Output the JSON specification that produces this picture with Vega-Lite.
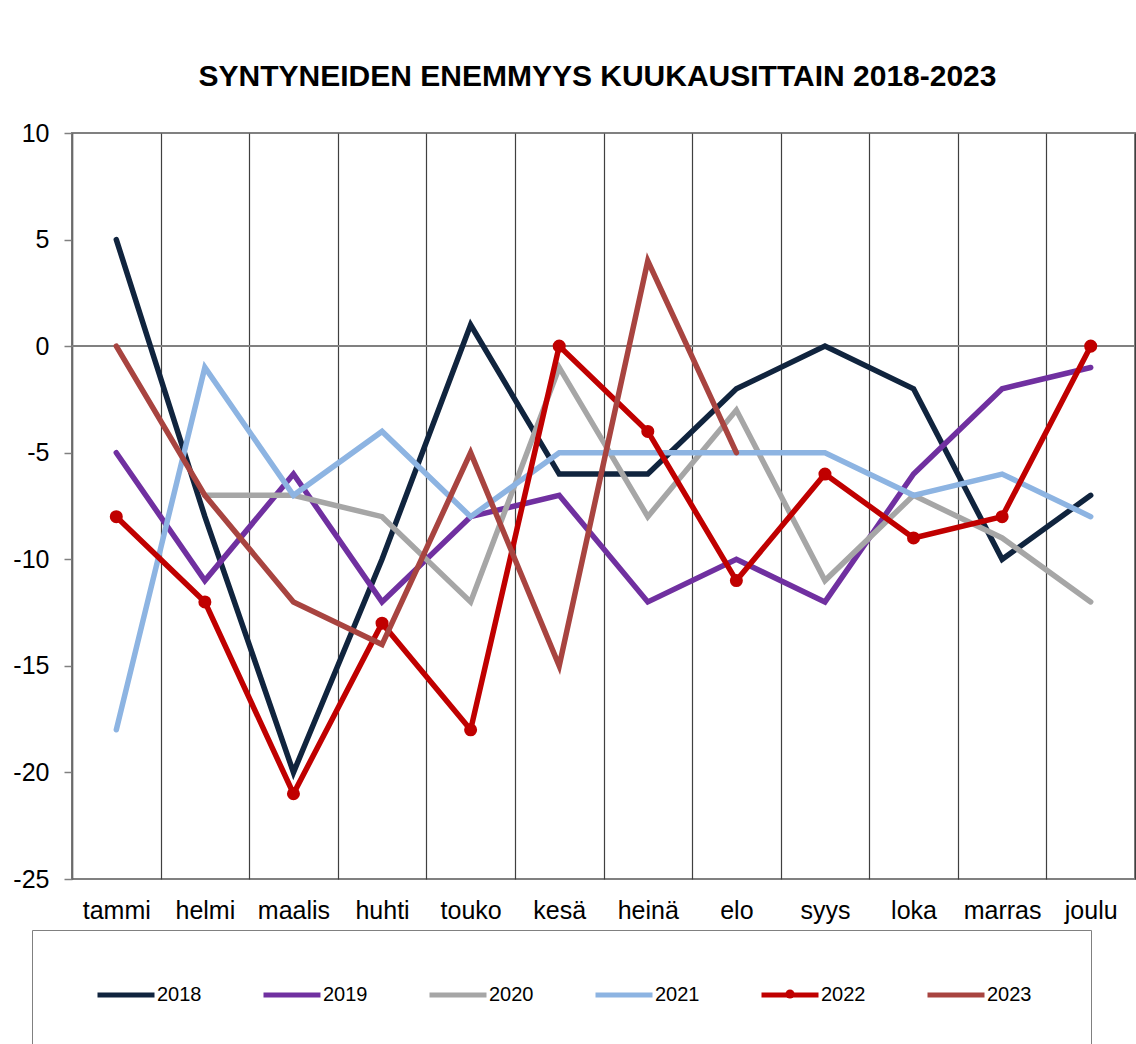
{
  "$schema": "https://vega.github.io/schema/vega-lite/v6.json",
  "width": 1063,
  "height": 746,
  "autosize": {"type": "none"},
  "padding": {"left": 72, "top": 133, "right": 1, "bottom": 165},
  "background": "white",
  "title": {
    "text": "SYNTYNEIDEN ENEMMYYS KUUKAUSITTAIN 2018-2023",
    "font": "Liberation Sans",
    "fontSize": 30,
    "fontWeight": "bold",
    "color": "black",
    "anchor": "middle",
    "frame": "group",
    "baseline": "alphabetic",
    "offset": 5,
    "dx": -6
  },
  "data": {
    "values": [
      {"month": "tammi", "year": "2018", "value": 5},
      {"month": "helmi", "year": "2018", "value": -8},
      {"month": "maalis", "year": "2018", "value": -20},
      {"month": "huhti", "year": "2018", "value": -10},
      {"month": "touko", "year": "2018", "value": 1},
      {"month": "kesä", "year": "2018", "value": -6},
      {"month": "heinä", "year": "2018", "value": -6},
      {"month": "elo", "year": "2018", "value": -2},
      {"month": "syys", "year": "2018", "value": 0},
      {"month": "loka", "year": "2018", "value": -2},
      {"month": "marras", "year": "2018", "value": -10},
      {"month": "joulu", "year": "2018", "value": -7},
      {"month": "tammi", "year": "2019", "value": -5},
      {"month": "helmi", "year": "2019", "value": -11},
      {"month": "maalis", "year": "2019", "value": -6},
      {"month": "huhti", "year": "2019", "value": -12},
      {"month": "touko", "year": "2019", "value": -8},
      {"month": "kesä", "year": "2019", "value": -7},
      {"month": "heinä", "year": "2019", "value": -12},
      {"month": "elo", "year": "2019", "value": -10},
      {"month": "syys", "year": "2019", "value": -12},
      {"month": "loka", "year": "2019", "value": -6},
      {"month": "marras", "year": "2019", "value": -2},
      {"month": "joulu", "year": "2019", "value": -1},
      {"month": "helmi", "year": "2020", "value": -7},
      {"month": "maalis", "year": "2020", "value": -7},
      {"month": "huhti", "year": "2020", "value": -8},
      {"month": "touko", "year": "2020", "value": -12},
      {"month": "kesä", "year": "2020", "value": -1},
      {"month": "heinä", "year": "2020", "value": -8},
      {"month": "elo", "year": "2020", "value": -3},
      {"month": "syys", "year": "2020", "value": -11},
      {"month": "loka", "year": "2020", "value": -7},
      {"month": "marras", "year": "2020", "value": -9},
      {"month": "joulu", "year": "2020", "value": -12},
      {"month": "tammi", "year": "2021", "value": -18},
      {"month": "helmi", "year": "2021", "value": -1},
      {"month": "maalis", "year": "2021", "value": -7},
      {"month": "huhti", "year": "2021", "value": -4},
      {"month": "touko", "year": "2021", "value": -8},
      {"month": "kesä", "year": "2021", "value": -5},
      {"month": "heinä", "year": "2021", "value": -5},
      {"month": "elo", "year": "2021", "value": -5},
      {"month": "syys", "year": "2021", "value": -5},
      {"month": "loka", "year": "2021", "value": -7},
      {"month": "marras", "year": "2021", "value": -6},
      {"month": "joulu", "year": "2021", "value": -8},
      {"month": "tammi", "year": "2022", "value": -8},
      {"month": "helmi", "year": "2022", "value": -12},
      {"month": "maalis", "year": "2022", "value": -21},
      {"month": "huhti", "year": "2022", "value": -13},
      {"month": "touko", "year": "2022", "value": -18},
      {"month": "kesä", "year": "2022", "value": 0},
      {"month": "heinä", "year": "2022", "value": -4},
      {"month": "elo", "year": "2022", "value": -11},
      {"month": "syys", "year": "2022", "value": -6},
      {"month": "loka", "year": "2022", "value": -9},
      {"month": "marras", "year": "2022", "value": -8},
      {"month": "joulu", "year": "2022", "value": 0},
      {"month": "tammi", "year": "2023", "value": 0},
      {"month": "helmi", "year": "2023", "value": -7},
      {"month": "maalis", "year": "2023", "value": -12},
      {"month": "huhti", "year": "2023", "value": -14},
      {"month": "touko", "year": "2023", "value": -5},
      {"month": "kesä", "year": "2023", "value": -15},
      {"month": "heinä", "year": "2023", "value": 4},
      {"month": "elo", "year": "2023", "value": -5}
    ]
  },
  "encoding": {
    "x": {
      "field": "month",
      "type": "nominal",
      "sort": ["tammi", "helmi", "maalis", "huhti", "touko", "kesä", "heinä", "elo", "syys", "loka", "marras", "joulu"],
      "scale": {"type": "band", "paddingInner": 0, "paddingOuter": 0},
      "bandPosition": 0.5,
      "axis": {
        "title": null,
        "labelAngle": 0,
        "tickBand": "extent",
        "grid": true,
        "gridColor": "#404040",
        "gridWidth": 1.2,
        "ticks": false,
        "tickSize": 0,
        "domain": false,
        "labelFont": "Liberation Sans",
        "labelFontSize": 25,
        "labelColor": "black",
        "labelPadding": 19
      }
    },
    "y": {
      "field": "value",
      "type": "quantitative",
      "scale": {"domain": [-25, 10], "nice": false, "zero": false},
      "axis": {
        "title": null,
        "values": [-25, -20, -15, -10, -5, 0, 5, 10],
        "labelExpr": "'' + datum.value",
        "grid": false,
        "tickSize": 8,
        "tickColor": "#808080",
        "tickWidth": 1.5,
        "domainColor": "#6a6a6a",
        "domainWidth": 1.5,
        "labelFont": "Liberation Sans",
        "labelFontSize": 25,
        "labelColor": "black",
        "labelPadding": 15
      }
    }
  },
  "layer": [
    {
      "mark": {"type": "rule", "color": "#808080", "strokeWidth": 1.5},
      "encoding": {"y": {"datum": 0}, "x": null}
    },
    {
      "mark": {"type": "line", "strokeWidth": 5.5, "strokeCap": "round"},
      "encoding": {
        "color": {
          "field": "year",
          "type": "nominal",
          "scale": {
            "domain": ["2018", "2019", "2020", "2021", "2022", "2023"],
            "range": ["#10243e", "#7030a0", "#a6a6a6", "#8db4e2", "#c00000", "#a84440"]
          },
          "legend": {
            "orient": "none",
            "legendX": -40,
            "legendY": 797,
            "direction": "horizontal",
            "title": " ",
            "titleOrient": "right",
            "titleFontSize": 100,
            "titlePadding": 26,
            "titleBaseline": "top",
            "titleAnchor": "start",
            "symbolType": "stroke",
            "symbolSize": 3249,
            "symbolStrokeWidth": 5,
            "symbolOffset": 29,
            "labelOffset": 0,
            "labelFont": "Liberation Sans",
            "labelFontSize": 20,
            "labelColor": "black",
            "columnPadding": 30,
            "padding": 34,
            "strokeColor": "#808080"
          }
        }
      }
    },
    {
      "transform": [{"filter": "datum.year === '2022'"}],
      "mark": {"type": "point", "filled": true, "size": 170, "opacity": 1},
      "encoding": {
        "color": {
          "field": "year",
          "type": "nominal",
          "scale": {"domain": ["2022"], "range": ["#c00000"]},
          "legend": {
            "orient": "none",
            "legendX": 713,
            "legendY": 856,
            "title": null,
            "padding": 0,
            "symbolType": "circle",
            "symbolSize": 81,
            "symbolStrokeWidth": 0,
            "symbolOpacity": 1,
            "labelExpr": "''",
            "labelOffset": 0
          }
        }
      }
    }
  ],
  "resolve": {"scale": {"color": "independent"}, "legend": {"color": "independent"}},
  "config": {
    "view": {"stroke": "#808080", "strokeWidth": 2}
  }
}
